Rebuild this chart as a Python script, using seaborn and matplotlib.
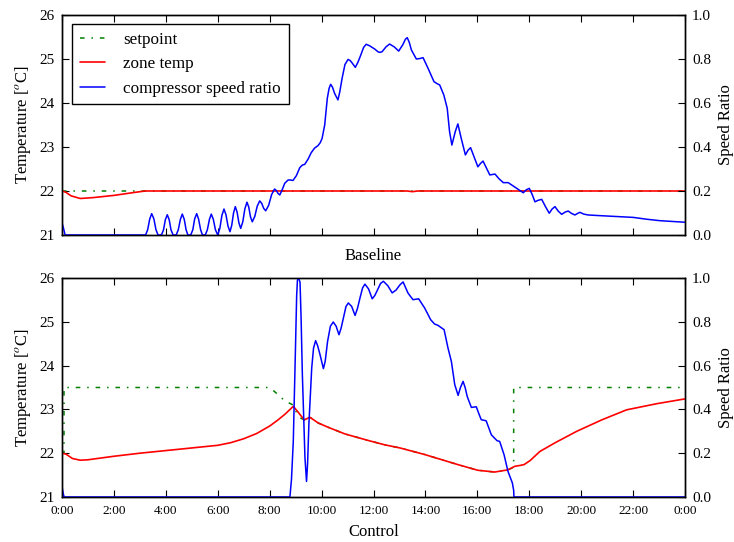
import numpy as np
import pandas as pd
import matplotlib
matplotlib.use("Agg")
import matplotlib.pyplot as plt
import seaborn as sns

# ---------------- data (hours of day) ----------------
tick_hours = [0, 2, 4, 6, 8, 10, 12, 14, 16, 18, 20, 22, 24]
tick_labels = ["0:00", "2:00", "4:00", "6:00", "8:00", "10:00", "12:00",
               "14:00", "16:00", "18:00", "20:00", "22:00", "0:00"]

# Baseline panel
base_sp_t = [0.0, 24.0]
base_sp_v = [22.0, 22.0]

base_zone_t = [0.0, 0.15, 0.35, 0.7, 1.2, 2.0, 2.7, 3.2, 5.0, 8.0, 11.0,
               13.3, 13.5, 13.7, 14.0, 18.0, 24.0]
base_zone_v = [22.0, 21.97, 21.89, 21.83, 21.85, 21.9, 21.96, 22.0, 22.0, 22.0, 22.0,
               22.0, 21.985, 22.0, 22.0, 22.0, 22.0]

base_speed_t = [0.0, 0.06, 0.12, 3.22,
                3.30, 3.38, 3.455, 3.54, 3.62, 3.70,
                3.83, 3.91, 3.98, 4.056, 4.13, 4.20, 4.28,
                4.40, 4.48, 4.56, 4.634, 4.71, 4.78, 4.85,
                4.96, 5.04, 5.11, 5.189, 5.26, 5.34, 5.41,
                5.52, 5.60, 5.68, 5.751, 5.83, 5.91, 6.00,
                6.08, 6.16, 6.24, 6.317, 6.394, 6.471,
                6.539, 6.608, 6.676, 6.745, 6.815, 6.884,
                6.965, 7.045, 7.126, 7.194, 7.262, 7.33,
                7.425, 7.521, 7.616, 7.693, 7.77, 7.847,
                7.961, 8.076, 8.19, 8.257, 8.323, 8.39,
                8.48, 8.58, 8.71, 8.80, 8.90, 9.03, 9.16, 9.26, 9.35,
                9.48, 9.60, 9.73, 9.86, 9.95, 10.02, 10.12, 10.22, 10.29, 10.35,
                10.42, 10.50, 10.63, 10.70, 10.79, 10.90, 11.02, 11.10, 11.17,
                11.30, 11.40, 11.51, 11.62, 11.72, 11.85, 12.05, 12.17, 12.24,
                12.33, 12.48, 12.62, 12.80, 12.97, 13.13, 13.23, 13.30, 13.38,
                13.46, 13.65, 13.78, 13.91, 14.10, 14.33, 14.45, 14.55, 14.71,
                14.84, 14.93, 15.02, 15.15, 15.25, 15.38, 15.54, 15.64, 15.74,
                15.90, 16.02, 16.12, 16.22, 16.35, 16.48, 16.68, 16.84, 17.00,
                17.19, 17.48, 17.77, 17.88, 18.00, 18.11, 18.22, 18.35, 18.48,
                18.62, 18.77, 18.88, 18.99, 19.12, 19.25, 19.38, 19.50, 19.63,
                19.76, 19.86, 19.95, 20.10, 20.27, 20.72, 21.4, 22.01, 22.5,
                23.04, 24.0]
base_speed_v = [0.055, 0.03, 0.0, 0.0,
                0.024, 0.073, 0.097, 0.073, 0.024, 0.0,
                0.0, 0.023, 0.069, 0.092, 0.069, 0.023, 0.0,
                0.0, 0.024, 0.071, 0.095, 0.071, 0.024, 0.0,
                0.0, 0.024, 0.073, 0.097, 0.073, 0.024, 0.0,
                0.0, 0.024, 0.071, 0.095, 0.071, 0.024, 0.0,
                0.030, 0.089, 0.118, 0.092, 0.041, 0.015,
                0.044, 0.100, 0.129, 0.104, 0.055, 0.030,
                0.060, 0.119, 0.149, 0.127, 0.082, 0.060,
                0.084, 0.131, 0.155, 0.144, 0.121, 0.110,
                0.135, 0.184, 0.209, 0.202, 0.189, 0.182,
                0.205, 0.235, 0.25, 0.25, 0.248, 0.27, 0.306, 0.318, 0.321,
                0.345, 0.374, 0.395, 0.406, 0.42, 0.439, 0.50, 0.621, 0.667, 0.685,
                0.672, 0.644, 0.614, 0.65, 0.712, 0.775, 0.798, 0.793, 0.783,
                0.762, 0.785, 0.818, 0.853, 0.867, 0.86, 0.845, 0.833, 0.830,
                0.833, 0.855, 0.868, 0.855, 0.836, 0.865, 0.89, 0.897, 0.875,
                0.841, 0.80, 0.802, 0.806, 0.758, 0.697, 0.688, 0.682, 0.636,
                0.576, 0.470, 0.409, 0.470, 0.505, 0.439, 0.364, 0.385, 0.397,
                0.348, 0.31, 0.325, 0.336, 0.305, 0.273, 0.277, 0.255, 0.238,
                0.238, 0.215, 0.192, 0.205, 0.212, 0.185, 0.151, 0.158, 0.162,
                0.13, 0.099, 0.118, 0.129, 0.108, 0.094, 0.104, 0.109, 0.098,
                0.091, 0.098, 0.103, 0.095, 0.091, 0.088, 0.084, 0.08, 0.072,
                0.065, 0.058]

# Control panel
ctrl_sp_t = [0.0, 0.077, 0.077, 8.0, 8.26, 8.59, 8.91, 9.04, 9.2, 9.33, 9.55,
             9.87, 10.26, 10.90, 11.80, 12.44, 13.02, 13.97, 15.25, 16.02, 16.67,
             17.18, 17.40, 17.40, 24.0]
ctrl_sp_v = [22.0, 22.0, 23.5, 23.5, 23.37, 23.19, 23.1, 22.92, 22.8, 22.76, 22.82,
             22.69, 22.59, 22.44, 22.29, 22.19, 22.12, 21.97, 21.74, 21.61, 21.57,
             21.62, 21.68, 23.5, 23.5]

ctrl_zone_t = [0.0, 0.15, 0.4, 0.7, 1.0, 2.0, 3.0, 4.0, 5.0, 6.0, 6.5, 7.0, 7.5,
               8.0, 8.3, 8.59, 8.91, 9.12, 9.33, 9.55, 9.87, 10.26, 10.90, 11.80,
               12.44, 13.02, 13.97, 15.25, 16.02, 16.67, 17.18, 17.44, 17.64, 17.8,
               18.03, 18.41, 19.0, 19.83, 20.79, 21.75, 22.91, 24.0]
ctrl_zone_v = [22.0, 21.98, 21.88, 21.84, 21.85, 21.93, 22.0, 22.06, 22.12, 22.18,
               22.24, 22.33, 22.45, 22.62, 22.75, 22.89, 23.07, 22.92, 22.76, 22.82,
               22.69, 22.59, 22.44, 22.29, 22.19, 22.12, 21.97, 21.74, 21.61, 21.57,
               21.62, 21.70, 21.72, 21.74, 21.83, 22.04, 22.24, 22.50, 22.76, 22.99,
               23.13, 23.24]

ctrl_speed_t = [0.0, 0.04, 0.08, 8.78, 8.84, 8.91, 9.0, 9.04, 9.07, 9.12, 9.17,
                9.21, 9.26, 9.36, 9.42, 9.46, 9.51, 9.62, 9.69, 9.77, 9.85, 9.94,
                10.07, 10.14, 10.23, 10.34, 10.45, 10.56, 10.67, 10.75, 10.84, 10.94,
                11.03, 11.16, 11.29, 11.38, 11.48, 11.58, 11.67, 11.81, 11.95, 12.05,
                12.16, 12.27, 12.38, 12.55, 12.72, 12.87, 13.02, 13.14, 13.33, 13.52,
                13.74, 13.97, 14.20, 14.35, 14.48, 14.72, 14.87, 15.00, 15.13, 15.26,
                15.35, 15.45, 15.53, 15.61, 15.77, 15.96, 16.06, 16.15, 16.34, 16.54,
                16.76, 16.86, 17.03, 17.18, 17.35, 17.40, 17.41, 24.0]
ctrl_speed_v = [0.048, 0.02, 0.0, 0.0, 0.08, 0.254, 0.71, 0.92, 0.99, 1.0, 0.98,
                0.82, 0.558, 0.178, 0.071, 0.15, 0.33, 0.589, 0.68, 0.714, 0.69,
                0.65, 0.586, 0.62, 0.71, 0.78, 0.799, 0.78, 0.741, 0.77, 0.817,
                0.87, 0.886, 0.87, 0.829, 0.86, 0.909, 0.955, 0.972, 0.95, 0.905,
                0.92, 0.947, 0.975, 0.985, 0.965, 0.932, 0.945, 0.969, 0.982, 0.931,
                0.901, 0.905, 0.863, 0.81, 0.79, 0.784, 0.764, 0.680, 0.619, 0.513,
                0.464, 0.50, 0.528, 0.50, 0.459, 0.409, 0.412, 0.38, 0.353, 0.348,
                0.284, 0.257, 0.254, 0.193, 0.117, 0.064, 0.03, 0.0, 0.0]

# ---------------- style ----------------
sns.set_style("white")
plt.rcParams["font.family"] = ["Liberation Serif", "DejaVu Serif"]
plt.rcParams["mathtext.fontset"] = "stix"
plt.rcParams["font.size"] = 10
plt.rcParams["xtick.direction"] = "in"
plt.rcParams["ytick.direction"] = "in"
plt.rcParams["axes.edgecolor"] = "black"
plt.rcParams["axes.linewidth"] = 1.0
plt.rcParams["xtick.color"] = "black"
plt.rcParams["ytick.color"] = "black"
plt.rcParams["text.color"] = "black"
plt.rcParams["axes.labelcolor"] = "black"

GREEN = (0.0, 0.5, 0.0)
RED = (1.0, 0.0, 0.0)
BLUE = (0.0, 0.0, 1.0)
DASHDOT = (0, (3, 4.5, 1, 4.5))

fig = plt.figure(figsize=(7.34, 5.42), dpi=100)
W, H = 734.0, 542.0
ax_top = fig.add_axes([62 / W, 1 - 235 / H, 623 / W, 220 / H])
ax_bot = fig.add_axes([62 / W, 1 - 497 / H, 623 / W, 219 / H])


def draw(ax, sp_t, sp_v, z_t, z_v, s_t, s_v, xlabel, show_xticklabels):
    sp = pd.DataFrame({"t": sp_t, "v": sp_v})
    zn = pd.DataFrame({"t": z_t, "v": z_v})
    sd = pd.DataFrame({"t": s_t, "v": s_v})
    sns.lineplot(data=sp, x="t", y="v", ax=ax, color=GREEN, lw=1.1,
                 estimator=None, sort=False, label="setpoint", zorder=2)
    ax.lines[-1].set_linestyle(DASHDOT)
    sns.lineplot(data=zn, x="t", y="v", ax=ax, color=RED, lw=1.2,
                 estimator=None, sort=False, label="zone temp", zorder=3)
    ax2 = ax.twinx()
    sns.lineplot(data=sd, x="t", y="v", ax=ax2, color=BLUE, lw=1.1,
                 estimator=None, sort=False, label="compressor speed ratio")
    ax.set_xlim(0, 24)
    ax.set_ylim(21, 26)
    ax2.set_ylim(0, 1.0)
    ax.set_xticks(tick_hours)
    ax.set_yticks([21, 22, 23, 24, 25, 26])
    ax2.set_yticks([0.0, 0.2, 0.4, 0.6, 0.8, 1.0])
    ax2.set_yticklabels(["0.0", "0.2", "0.4", "0.6", "0.8", "1.0"])
    if show_xticklabels:
        ax.set_xticklabels(tick_labels)
    else:
        ax.set_xticklabels([])
    ax.tick_params(axis="x", which="both", top=True, bottom=True, length=5,
                   width=0.8, labelsize=9.5, pad=5.5)
    ax.tick_params(axis="y", left=True, right=False, length=5, width=0.8,
                   labelsize=11, pad=5)
    ax2.tick_params(axis="y", right=True, left=False, length=5, width=0.8,
                    labelsize=11, pad=5)
    ax.set_xlabel(xlabel, fontsize=12, labelpad=5 if show_xticklabels else 4)
    ax.set_ylabel(r"Temperature [$^o$C]", fontsize=12, labelpad=5)
    ax2.set_ylabel("Speed Ratio", fontsize=12, labelpad=5)
    for a in (ax, ax2):
        for s in a.spines.values():
            s.set_visible(True)
            s.set_color("black")
            s.set_linewidth(1.0)
    return ax2


ax2_top = draw(ax_top, base_sp_t, base_sp_v, base_zone_t, base_zone_v,
               base_speed_t, base_speed_v, "Baseline", False)
ax2_bot = draw(ax_bot, ctrl_sp_t, ctrl_sp_v, ctrl_zone_t, ctrl_zone_v,
               ctrl_speed_t, ctrl_speed_v, "Control", True)

# combined legend in the top panel, remove per-axes legends
h1, l1 = ax_top.get_legend_handles_labels()
h2, l2 = ax2_top.get_legend_handles_labels()
for a in (ax_top, ax2_top, ax_bot, ax2_bot):
    lg = a.get_legend()
    if lg is not None:
        lg.remove()
leg = ax2_top.legend(h1 + h2, l1 + l2, loc="upper left", fontsize=12.3,
                     frameon=True, fancybox=False, framealpha=1.0,
                     edgecolor="black", handlelength=1.5, handletextpad=1.05,
                     labelspacing=0.5, borderpad=0.45, borderaxespad=0.0,
                     bbox_to_anchor=(0.016, 0.959))
leg.get_frame().set_linewidth(1.0)

fig.savefig("out.png", dpi=100)
